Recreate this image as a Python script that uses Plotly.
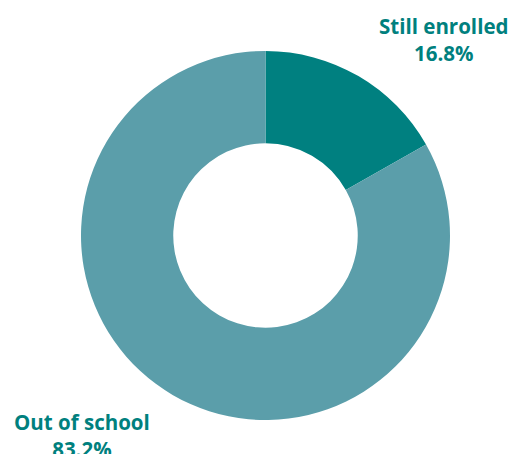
import plotly.graph_objects as go

# Share of students by enrollment status
categories = ["Still enrolled", "Out of school"]
shares = [16.8, 83.2]
colors = ["#008080", "#5B9EAA"]

W, H = 518, 454
cx, cy, r = 265.5, 235.5, 184.5

fig = go.Figure(
    go.Pie(
        labels=categories,
        values=shares,
        hole=0.5,
        sort=False,
        direction="clockwise",
        rotation=0,
        marker=dict(colors=colors, line=dict(width=0)),
        textinfo="none",
        hoverinfo="label+percent",
        showlegend=False,
        domain=dict(
            x=[(cx - r) / W, (cx + r) / W],
            y=[(H - cy - r) / H, (H - cy + r) / H],
        ),
    )
)

label_pos = {
    "Still enrolled": (443.5, 39),
    "Out of school": (81.5, 435.5),
}

for name, val in zip(categories, shares):
    px, py = label_pos[name]
    fig.add_annotation(
        x=px / W,
        y=1 - py / H,
        xref="paper",
        yref="paper",
        text=f"{name}<br>{val:.1f}%",
        showarrow=False,
        xanchor="center",
        yanchor="middle",
        align="center",
        font=dict(family="Open Sans", size=20.5, color="#00807E", weight="bold"),
    )

fig.update_layout(
    width=W,
    height=H,
    margin=dict(l=0, r=0, t=0, b=0),
    paper_bgcolor="white",
    plot_bgcolor="white",
)

fig.write_html("out.html")
